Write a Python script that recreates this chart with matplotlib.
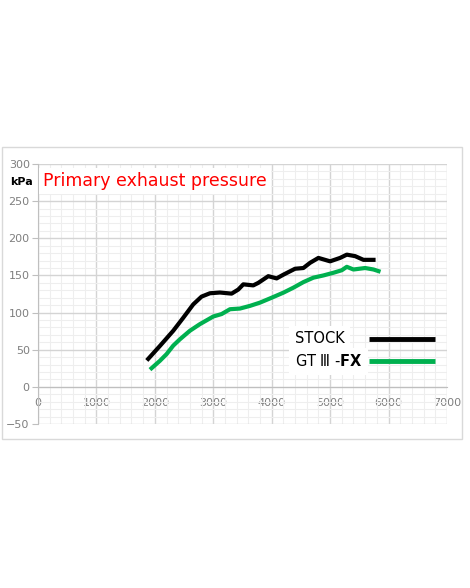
import matplotlib.pyplot as plt
from matplotlib.patches import Rectangle
from matplotlib.ticker import MultipleLocator

# engine speed (rpm) / primary exhaust pressure (kPa)
stock_rpm = [1886, 2086, 2315, 2486, 2657, 2800, 2943, 3114, 3314, 3428, 3514,
             3685, 3771, 3942, 4085, 4200, 4400, 4543, 4657, 4800, 5000, 5171,
             5286, 5428, 5571, 5743]
stock_kpa = [37.6, 55, 75.5, 93, 111, 121.5, 126, 127, 125.5, 131, 138,
             136.6, 140, 149, 146, 151, 159, 160, 167, 173.6, 169, 173.6,
             178, 176, 171, 171]

fx_rpm = [1943, 2086, 2200, 2315, 2429, 2600, 2771, 3000, 3143, 3286, 3457,
          3628, 3800, 4000, 4200, 4371, 4543, 4714, 4886, 5057, 5200, 5286,
          5400, 5600, 5743, 5829]
fx_kpa = [25, 35, 44, 55.5, 64, 75.5, 84.4, 94.7, 98, 104.5, 105.4,
          109, 113.4, 120, 126.8, 133.5, 141, 147, 150, 153.6, 157, 161.6,
          158, 160, 158, 155.8]

x_ticks = [0, 1000, 2000, 3000, 4000, 5000, 6000, 7000]
y_ticks = [-50, 0, 50, 100, 150, 200, 250, 300]

series_names = ['STOCK', 'GT \u2162 -$\\mathbf{FX}$']
series_colors = ['black', '#00b04f']

fig = plt.figure(figsize=(4.7, 5.88), dpi=100)
ax = fig.add_axes([0.0809, 0.279, 0.870, 0.442])

# outer frame around the chart
fig.patches.append(Rectangle((0.0043, 0.2534), 0.9787, 0.4966, transform=fig.transFigure,
                             fill=False, edgecolor='#d9d9d9', linewidth=1))

ax.plot(stock_rpm, stock_kpa, color=series_colors[0], linewidth=3, zorder=3)
ax.plot(fx_rpm, fx_kpa, color=series_colors[1], linewidth=3, zorder=3)

ax.set_xlim(0, 7000)
ax.set_ylim(-50, 300)
ax.set_xticks(x_ticks)
ax.set_yticks(y_ticks)
ax.xaxis.set_minor_locator(MultipleLocator(200))
ax.yaxis.set_minor_locator(MultipleLocator(10))
ax.grid(which='major', color='#d4d4d4', linewidth=1)
ax.grid(which='minor', color='#eeeeee', linewidth=0.8)
ax.set_axisbelow(True)

for s in ['top', 'right']:
    ax.spines[s].set_visible(False)
ax.spines['bottom'].set_position(('data', 0))
ax.spines['bottom'].set_color('#bfbfbf')
ax.spines['left'].set_color('#bfbfbf')
ax.tick_params(axis='x', which='major', length=0, pad=8, labelsize=8, labelcolor='#7f7f7f')
ax.tick_params(axis='y', which='major', length=4, color='#bfbfbf', pad=2, labelsize=8, labelcolor='#7f7f7f')
ax.tick_params(which='minor', length=0)

fig.text(10 / 470, 1 - 182 / 588, 'kPa', fontsize=8, fontweight='bold', va='center', ha='left')
ax.text(0.012, 0.935, 'Primary exhaust pressure', transform=ax.transAxes, color='red',
        fontsize=12.5, va='center', ha='left',
        bbox=dict(facecolor='white', edgecolor='none', pad=3))

# legend: text on the left, sample line on the right
key_y = [0.327, 0.242]
for name, col, yy in zip(series_names, series_colors, key_y):
    ax.text(0.628, yy, name, transform=ax.transAxes, fontsize=10.5, va='center', ha='left',
            zorder=4, bbox=dict(facecolor='white', edgecolor='none', pad=4))
    ax.plot([0.809, 0.971], [yy, yy], transform=ax.transAxes, color=col, linewidth=3.5,
            solid_capstyle='butt', zorder=4)

fig.savefig('out.png', dpi=100)
